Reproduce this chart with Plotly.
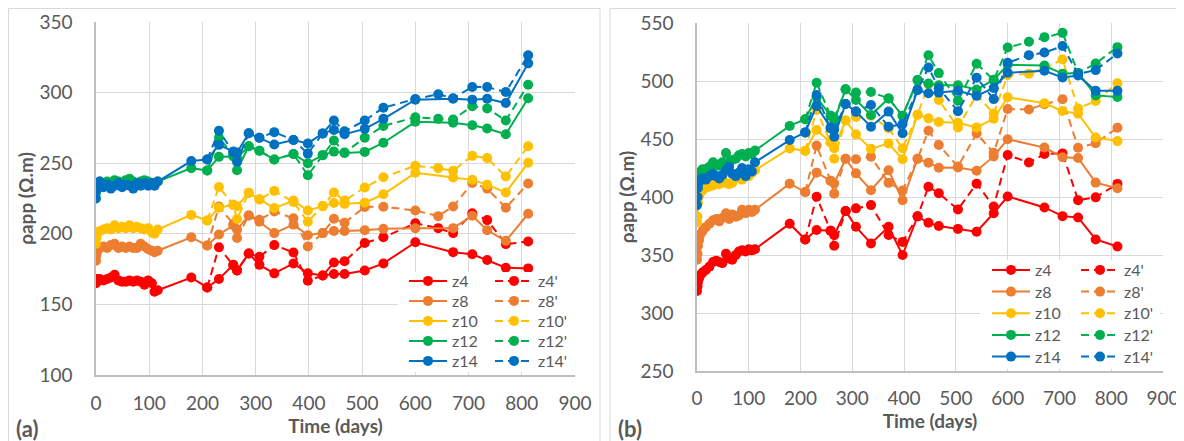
import plotly.graph_objects as go

# ---------------- data: panel (a) ----------------
days_a_solid = [0, 1, 3, 7, 14, 21, 28, 35, 42, 49, 56, 63, 70, 77, 84, 91, 98, 105, 110, 116,
                179, 209, 231, 258, 265, 287, 307, 335, 371, 398, 426, 447, 467, 505, 540, 600, 671, 707, 735, 770, 812]
days_a_dash = [209, 231, 258, 265, 287, 307, 335, 371, 398, 426, 447, 467, 505, 540, 600, 643, 671, 707, 735, 770, 812]

z4_a = [165, 168, 167, 168, 167, 168, 169, 171, 167, 166, 166, 167, 166, 167, 166, 164, 167, 165, 159, 160,
        169, 162, 168, 178, 174, 186, 178, 172, 179, 172, 170.5, 171.5, 171.5, 174, 179, 194, 187, 185.5, 181.5, 176, 175.5]
z8_a = [181, 185, 188, 190, 191, 190, 192, 193, 190, 191, 190, 191, 190, 190, 193, 191, 189, 188, 187, 188,
        197.5, 191.7, 199.5, 206, 203, 213, 208.5, 200.5, 206.5, 199, 200.5, 202, 202, 202.5, 203.5, 204, 204, 212.8, 202.5, 195, 214.2]
z10_a = [193, 197, 201, 202, 203, 204, 203, 206, 204, 205, 204, 206, 204, 205, 204, 203, 204, 201, 200, 203,
         213.4, 209.4, 218.5, 220.5, 219.5, 229, 224.5, 218.2, 223.5, 216.5, 219.6, 221.8, 221.2, 222, 228, 243.2, 239.9, 238.2, 234.8, 229.3, 250.3]
z12_a = [229, 233, 236, 237, 236, 237, 236, 238, 237, 236, 238, 239, 237, 236, 237, 238, 237, 236, 235, 237,
         246.5, 244.8, 254.5, 254.8, 245, 262, 258.8, 252.6, 256.5, 250, 255.7, 258.2, 257.2, 258, 264.5, 279.3, 278.6, 276.9, 274.6, 270.5, 296]
z14_a = [225, 231, 236, 237, 233, 235, 232, 234, 236, 233, 235, 234, 232, 236, 234, 236, 234, 236, 234, 237,
         251.5, 252.6, 263, 258.3, 257.5, 271.2, 268, 263.2, 266.4, 264, 271.1, 273.6, 270.5, 274.3, 281.4, 295, 295.7, 295, 295.7, 292.6, 320.7]

z4p_a = [162, 190.5, 177.5, 174, 186, 183.7, 192, 186.8, 166.7, 170.5, 179.7, 180.5, 193.5, 197.5, 207.5, 204, 200.5, 214.6, 209.7, 192.7, 194.5]
z8p_a = [191.7, 219.3, 207, 197, 213, 209.9, 215.8, 211, 191, 200.5, 210.7, 207.8, 219, 219.2, 216.5, 212.5, 219.3, 236, 232, 218.5, 235.6]
z10p_a = [209.4, 233.2, 220.5, 210.5, 229, 224.3, 230.4, 222.5, 208.5, 219.6, 229.2, 223.5, 232.8, 240, 248.2, 246.5, 244.6, 255.2, 253.6, 240.6, 262]
z12p_a = [244.8, 268, 256, 254, 262, 258.8, 252.6, 256.5, 241.5, 255.7, 266, 257.5, 268, 276.3, 282.6, 281.4, 281, 290.4, 288.8, 280.3, 305.6]
z14p_a = [252.6, 273, 257.6, 251, 271.2, 268, 272, 266.4, 256.8, 271.1, 280.2, 272.6, 280.2, 289.3, 295.5, 298.8, 296, 304, 304, 300.4, 326.4]

# ---------------- data: panel (b) ----------------
days_b_solid = [0, 1, 2, 4, 7, 11, 17, 24, 31, 37, 43, 49, 56, 62, 68, 75, 81, 87, 94, 100, 106, 112,
                179, 209, 231, 258, 265, 287, 307, 336, 370, 397, 426, 447, 467, 504, 540, 573, 600, 671, 706, 736, 770, 812]
days_b_dash = [209, 231, 258, 265, 287, 307, 336, 370, 397, 426, 447, 467, 504, 540, 573, 600, 641, 671, 706, 736, 770, 812]

z4_b = [319, 323, 327, 330, 333, 335, 337, 340, 344, 345, 344, 343, 351, 347, 346, 350, 353, 354, 353, 355, 354, 355,
        377, 363.3, 371.5, 371, 367, 388, 374.3, 360, 374.3, 350, 383.3, 377.8, 375, 372.5, 370, 386, 400.5, 391, 383.5, 382.4, 363.4, 357.3]
z8_b = [346, 351, 358, 363, 368, 371, 374, 377, 380, 381, 379, 382, 386, 381, 385, 383, 384, 389, 386, 389, 387, 389,
        411.5, 404.3, 421, 414, 411.6, 433, 420.4, 405.8, 423, 397.2, 433, 429.6, 425.2, 425.5, 422.7, 435, 449.8, 442.6, 434.3, 433.6, 412.4, 407.5]
z10_b = [378, 383, 395, 401, 404, 406, 408, 409, 410, 412, 411, 413, 412, 411, 412, 416, 418, 415, 420, 418, 421, 423,
         441.9, 439.8, 457.7, 447, 442, 466, 454, 441.5, 446.2, 432.6, 471, 467.8, 464.6, 464, 460, 467.5, 486, 480.8, 474.2, 471.8, 451.3, 448.2]
z12_b = [400, 412, 418, 420, 422, 424, 424, 426, 430, 428, 427, 430, 438, 430, 432, 433, 436, 437, 435, 438, 437, 440,
         461.3, 467, 486, 470, 465.8, 492.8, 483.6, 470.7, 485, 470, 500.8, 497.9, 496.4, 496.4, 492.7, 501, 514, 513.3, 506.2, 507, 487.6, 486.2]
z14_b = [393, 400, 408, 413, 415, 416, 415, 418, 420, 418, 416, 419, 423, 426, 420, 418, 421, 425, 418, 424, 422, 430,
         449.1, 455.7, 478.5, 460, 452, 480.2, 473.6, 460.6, 473.6, 455, 492.2, 489.5, 490, 491.5, 487.2, 494, 507.1, 508.8, 503.1, 504.8, 491.5, 491.5]

z4p_b = [363.3, 400.2, 371, 358, 388, 390.2, 393, 367.2, 361.3, 383.3, 408.9, 403.2, 389.3, 411.5, 391.8, 436.2, 429.8, 437, 437.6, 397.3, 399.7, 411.3]
z8p_b = [404.3, 444.3, 414, 402.9, 433, 432.5, 434.7, 412.2, 405.6, 433, 457.1, 444.8, 426.2, 454.7, 438.2, 475.8, 475.5, 480, 484.2, 442.5, 446.3, 459.7]
z10p_b = [439.8, 475, 447, 433, 466, 469, 470, 459.2, 442, 471, 497, 483.6, 460, 488, 472, 505, 506.3, 511, 518.6, 476.3, 482.8, 498.1]
z12p_b = [467, 498.5, 470, 468, 492.8, 490, 490.5, 485, 470, 500.8, 522.2, 506.8, 483, 514.9, 500.8, 528.9, 533.8, 537.8, 541.5, 507, 515.1, 529.2]
z14p_b = [455.7, 488, 459, 458, 480.2, 473.6, 479.3, 460.6, 462.9, 492.2, 511.6, 493.8, 474, 502.9, 484.4, 515.7, 522.3, 524.5, 530.1, 506, 509.4, 523.7]

names = ["z4", "z8", "z10", "z12", "z14"]
colors = ["#FF0000", "#ED7D31", "#FFC000", "#00B050", "#0070C0"]

# the page places the figure 8px from the top-left corner of the window
OFF = 8
W, H = 1184 - OFF, 441 - OFF
FONT = "Lato"
TXT = "#595959"

def px_x(p):
    """screen pixel x -> paper fraction"""
    return (p - OFF) / W

def px_y(p):
    """screen pixel y -> paper fraction"""
    return 1 - (p - OFF) / H

fig = go.Figure()

# legend layout per panel: (x of solid column, x of dashed column, row centres, font size)
legend_layout = [
    (404, 490, [281, 301, 321, 341, 361], 16),
    (987, 1076, [270, 291.7, 313.3, 335, 356.7], 16),
]

panels = [
    ("x", "y", days_a_solid, days_a_dash, [z4_a, z8_a, z10_a, z12_a, z14_a],
     [z4p_a, z8p_a, z10p_a, z12p_a, z14p_a]),
    ("x2", "y2", days_b_solid, days_b_dash, [z4_b, z8_b, z10_b, z12_b, z14_b],
     [z4p_b, z8p_b, z10p_b, z12p_b, z14p_b]),
]

legends = {}
lg_index = 0
for p, (xa, ya, ds, dd, sols, dashes) in enumerate(panels):
    xs, xd, rows, fs = legend_layout[p]
    for i in range(5):
        for kind in ("solid", "dash"):
            lg_index += 1
            lname = "legend" if lg_index == 1 else f"legend{lg_index}"
            legends[lname] = dict(
                x=px_x(xs if kind == "solid" else xd), y=px_y(rows[i]),
                xanchor="left", yanchor="middle", orientation="v",
                bgcolor="rgba(0,0,0,0)", borderwidth=0, itemwidth=38,
                font=dict(family=FONT, size=fs, color=TXT))
            if kind == "solid":
                fig.add_trace(go.Scatter(
                    x=ds, y=sols[i], name=names[i], xaxis=xa, yaxis=ya, legend=lname,
                    showlegend=True,
                    mode="lines+markers", line=dict(color=colors[i], width=2),
                    marker=dict(color=colors[i], size=10, symbol="circle")))
            else:
                fig.add_trace(go.Scatter(
                    x=dd, y=dashes[i], name=names[i] + "'", xaxis=xa, yaxis=ya, legend=lname,
                    showlegend=True,
                    mode="lines+markers", line=dict(color=colors[i], width=2, dash="8px,5px"),
                    marker=dict(color=colors[i], size=10, symbol="circle")))

axis_common = dict(
    showgrid=True, gridcolor="#D9D9D9", gridwidth=1, zeroline=False,
    showline=True, linecolor="#BFBFBF", linewidth=1.5,
    ticks="outside", tickcolor="rgba(0,0,0,0)", automargin=False,
    tickfont=dict(family=FONT, size=19, color=TXT),
)
title_font = dict(family=FONT, size=19, color=TXT, weight="bold")

fig.update_layout(
    width=W, height=H, showlegend=True,
    margin=dict(l=0, r=0, t=0, b=0),
    paper_bgcolor="white", plot_bgcolor="white",
    font=dict(family=FONT, color=TXT),
    xaxis=dict(domain=[px_x(96), px_x(575)], range=[0, 900], dtick=100, anchor="y",
               ticklen=10, title=dict(text="Time (days)", font=title_font, standoff=3), **axis_common),
    yaxis=dict(domain=[px_y(375), px_y(22)], range=[100, 350], dtick=50, anchor="x",
               ticklen=18, title=dict(text="ρapp (Ω.m)", font=title_font, standoff=1), **axis_common),
    xaxis2=dict(domain=[px_x(697), px_x(1163)], range=[0, 900], dtick=100, anchor="y2",
                ticklen=9, title=dict(text="Time (days)", font=title_font, standoff=6), **axis_common),
    yaxis2=dict(domain=[px_y(371), px_y(23)], range=[250, 550], dtick=50, anchor="x2",
                ticklen=18, title=dict(text="ρapp (Ω.m)", font=title_font, standoff=1), **axis_common),
)
fig.update_layout(**legends)

shapes = [
    # white legend backgrounds
    dict(type="rect", xref="paper", yref="paper", x0=px_x(398), x1=px_x(575), y0=px_y(372), y1=px_y(272),
         fillcolor="white", line=dict(width=0), layer="above"),
    dict(type="rect", xref="paper", yref="paper", x0=px_x(980), x1=px_x(1160), y0=px_y(369), y1=px_y(260),
         fillcolor="white", line=dict(width=0), layer="above"),
    # panel frames
    dict(type="rect", xref="paper", yref="paper", x0=px_x(8.5), x1=px_x(600), y0=-0.05, y1=px_y(8.5),
         fillcolor="rgba(0,0,0,0)", line=dict(color="#D9D9D9", width=1), layer="below"),
    dict(type="rect", xref="paper", yref="paper", x0=px_x(610), x1=px_x(1181), y0=-0.05, y1=px_y(8.5),
         fillcolor="rgba(0,0,0,0)", line=dict(color="#D9D9D9", width=1), layer="below"),
]
fig.update_layout(shapes=shapes)

fig.add_annotation(text="(a)", xref="paper", yref="paper", x=px_x(14), y=px_y(428),
                   xanchor="left", yanchor="middle", showarrow=False,
                   font=dict(family=FONT, size=22, color=TXT, weight="bold"))
fig.add_annotation(text="(b)", xref="paper", yref="paper", x=px_x(616), y=px_y(428),
                   xanchor="left", yanchor="middle", showarrow=False,
                   font=dict(family=FONT, size=22, color=TXT, weight="bold"))

fig.write_html("out.html")
